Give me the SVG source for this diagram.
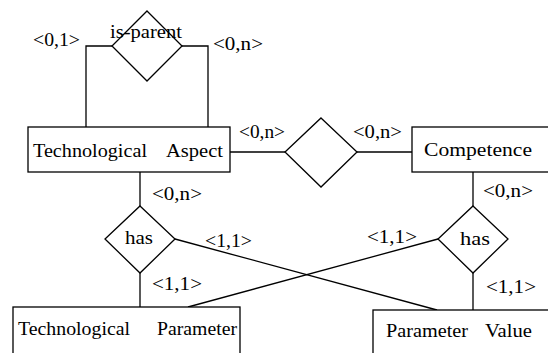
<svg xmlns="http://www.w3.org/2000/svg" width="548" height="353" viewBox="0 0 548 353" font-family="'Liberation Serif', 'Times New Roman', serif">
<style>
.s{fill:#fff;stroke:#000;stroke-width:1.3}
.c{fill:none;stroke:#000;stroke-width:1.3}
text{fill:#000}
.l{font-size:19px}
.t{font-size:18px}
</style>
<rect width="548" height="353" fill="#fff"/>
<g id="connectors">
<polyline class="c" points="112,46 86,46 86,127"/>
<polyline class="c" points="182,46 208,46 208,127"/>
<line class="c" x1="230" y1="152" x2="285" y2="152"/>
<line class="c" x1="357" y1="152" x2="412" y2="152"/>
<line class="c" x1="140" y1="172" x2="140" y2="206"/>
<line class="c" x1="140" y1="273" x2="140" y2="307"/>
<line class="c" x1="473" y1="172" x2="473" y2="206"/>
<line class="c" x1="473" y1="273" x2="473" y2="310"/>
<line class="c" x1="175" y1="239" x2="437" y2="310"/>
<line class="c" x1="438" y1="239" x2="188" y2="307"/>
</g>
<g id="is-parent">
<polygon class="s" points="147,11 182,46 147,81 112,46"/>
<text class="l" x="110" y="38" textLength="72" lengthAdjust="spacingAndGlyphs">is-parent</text>
</g>
<g id="technological-aspect">
<rect class="s" x="28" y="127" width="202" height="45"/>
<text class="t" x="33" y="157" textLength="114" lengthAdjust="spacingAndGlyphs">Technological</text>
<text class="t" x="166" y="157" textLength="57" lengthAdjust="spacingAndGlyphs">Aspect</text>
</g>
<g id="rel-middle">
<polygon class="s" points="321,118 357,152 321,187 285,152"/>
</g>
<g id="competence">
<rect class="s" x="412" y="127" width="150" height="45"/>
<text class="t" x="424" y="156" textLength="108" lengthAdjust="spacingAndGlyphs">Competence</text>
</g>
<g id="has-left">
<polygon class="s" points="140,206 175,239 140,273 105,239"/>
<text class="t" x="125" y="244" textLength="28" lengthAdjust="spacingAndGlyphs">has</text>
</g>
<g id="has-right">
<polygon class="s" points="473,206 508,239 473,273 438,239"/>
<text class="t" x="460" y="245" textLength="30" lengthAdjust="spacingAndGlyphs">has</text>
</g>
<g id="technological-parameter">
<rect class="s" x="13" y="307" width="227" height="60"/>
<text class="t" x="18" y="335" textLength="112" lengthAdjust="spacingAndGlyphs">Technological</text>
<text class="t" x="157" y="335" textLength="80" lengthAdjust="spacingAndGlyphs">Parameter</text>
</g>
<g id="parameter-value">
<rect class="s" x="373" y="310" width="200" height="60"/>
<text class="t" x="386" y="337" textLength="82" lengthAdjust="spacingAndGlyphs">Parameter</text>
<text class="t" x="485" y="337" textLength="47" lengthAdjust="spacingAndGlyphs">Value</text>
</g>
<g id="labels">
<text class="l" x="33" y="46" textLength="47" lengthAdjust="spacingAndGlyphs">&lt;0,1&gt;</text>
<text class="l" x="213" y="50" textLength="50" lengthAdjust="spacingAndGlyphs">&lt;0,n&gt;</text>
<text class="l" x="239" y="138" textLength="46" lengthAdjust="spacingAndGlyphs">&lt;0,n&gt;</text>
<text class="l" x="353" y="138" textLength="49" lengthAdjust="spacingAndGlyphs">&lt;0,n&gt;</text>
<text class="l" x="152" y="200" textLength="50" lengthAdjust="spacingAndGlyphs">&lt;0,n&gt;</text>
<text class="l" x="205" y="247" textLength="47" lengthAdjust="spacingAndGlyphs">&lt;1,1&gt;</text>
<text class="l" x="152" y="290" textLength="50" lengthAdjust="spacingAndGlyphs">&lt;1,1&gt;</text>
<text class="l" x="483" y="197" textLength="50" lengthAdjust="spacingAndGlyphs">&lt;0,n&gt;</text>
<text class="l" x="367" y="243" textLength="50" lengthAdjust="spacingAndGlyphs">&lt;1,1&gt;</text>
<text class="l" x="486" y="293" textLength="50" lengthAdjust="spacingAndGlyphs">&lt;1,1&gt;</text>
</g>
</svg>
